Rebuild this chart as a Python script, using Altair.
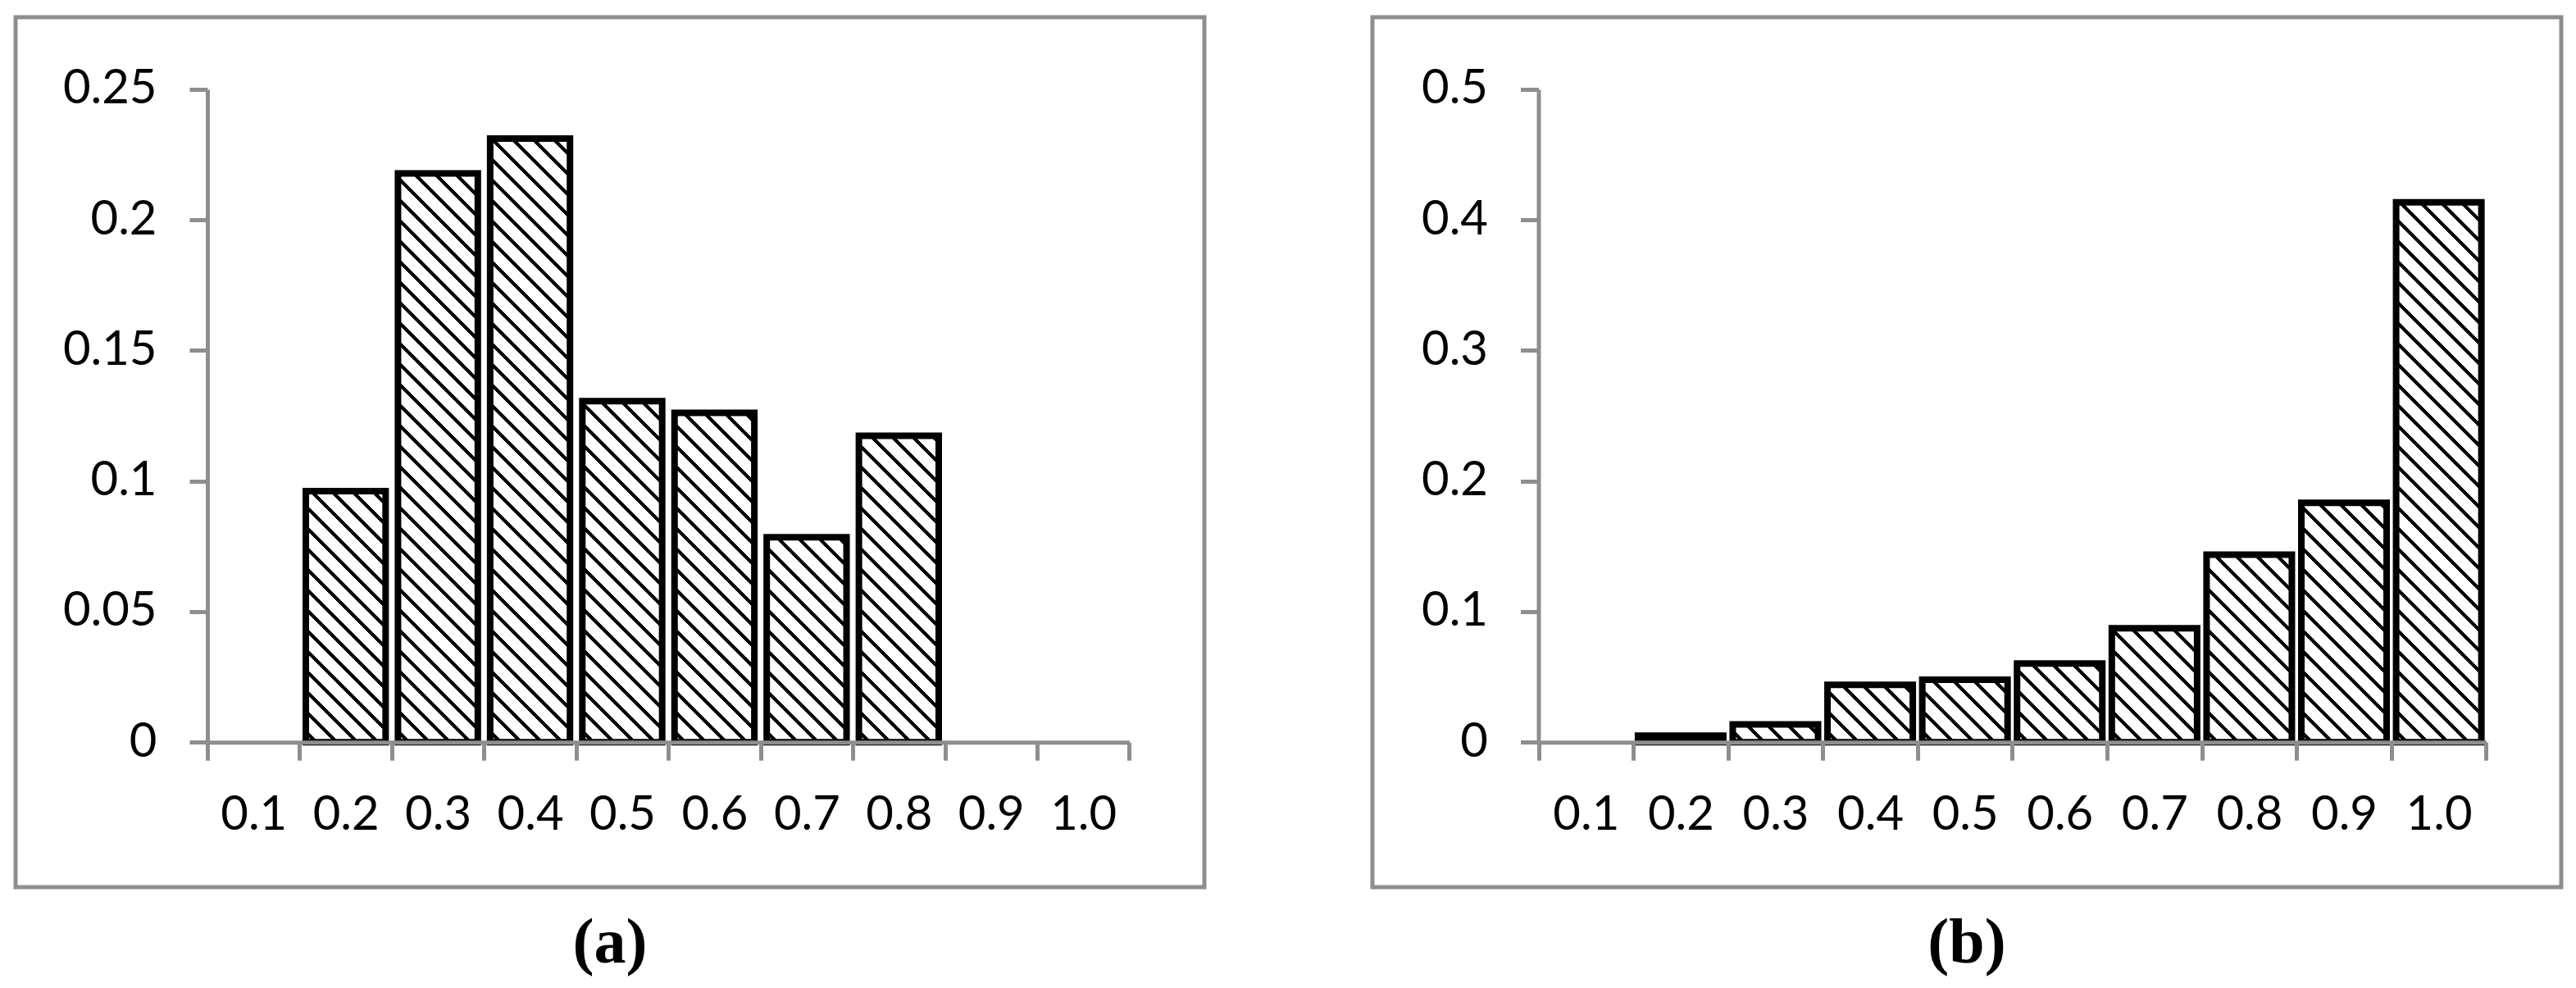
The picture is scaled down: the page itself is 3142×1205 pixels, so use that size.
import altair as alt

# ---------------- data ----------------
categories = ["0.1", "0.2", "0.3", "0.4", "0.5", "0.6", "0.7", "0.8", "0.9", "1.0"]
values_a = [None, 0.0961, 0.2178, 0.2311, 0.1306, 0.1261, 0.0785, 0.1173, None, None]
values_b = [None, 0.0050, 0.0136, 0.0440, 0.0478, 0.0603, 0.0872, 0.1436, 0.1833, 0.4134]
yticks_a = [0, 0.05, 0.1, 0.15, 0.2, 0.25]
yticks_b = [0, 0.1, 0.2, 0.3, 0.4, 0.5]
panel_labels = ["(a)", "(b)"]

# ---------------- style / layout ----------------
GRAY = "#8e8e8e"
VIEW_W, VIEW_H = 1450, 1061          # outer framed box of each panel
Y0, YTOP = 884.2, 87.9               # pixel rows of y=0 and y=max inside the box
X_END = 1358.4                       # right end of the category axis
LABEL_FONT = "Lato"
LABEL_SIZE = 58


def hatch(w, h, gid, period=25.0, thick=6.0):
    """Diagonal '\\' hatch as a hard-stop linear gradient in the bar's bbox."""
    L = w + h
    k = L / (w * w + h * h)
    stops = [{"offset": 0, "color": "white"}]
    a = period * 0.4
    while a < L:
        b = min(a + thick, L)
        stops += [
            {"offset": a / L, "color": "white"},
            {"offset": a / L, "color": "black"},
            {"offset": b / L, "color": "black"},
            {"offset": b / L, "color": "white"},
        ]
        a += period
    stops.append({"offset": 1, "color": "white"})
    return {"id": gid, "gradient": "linear", "x1": 0, "y1": 1,
            "x2": k * w, "y2": 1 - k * h, "stops": stops}


def panel(values, yticks, x_start, bar_frac, label, pid):
    ymax = yticks[-1]
    step = (X_END - x_start) / len(categories)
    w = bar_frac * step
    ppu = (Y0 - YTOP) / ymax
    rows = []
    for i, (c, v) in enumerate(zip(categories, values)):
        if v is None:
            continue
        rows.append({"cat": c, "value": v,
                     "hatch": hatch(w, max(v * ppu, 0.5), f"hatch_{pid}_{i}")})

    x_axis = alt.Axis(title=None, labelAngle=0, tickBand="extent", grid=False,
                      domainColor=GRAY, domainWidth=5, tickColor=GRAY, tickWidth=5,
                      tickSize=22, labelFont=LABEL_FONT, labelFontSize=LABEL_SIZE,
                      labelColor="black", labelPadding=38, offset=Y0 - VIEW_H,
                      zindex=1)
    y_axis = alt.Axis(title=None, values=yticks, format="~g", grid=False,
                      domainColor=GRAY, domainWidth=5, tickColor=GRAY, tickWidth=5,
                      tickSize=22, labelFont=LABEL_FONT, labelFontSize=LABEL_SIZE,
                      labelColor="black", labelPadding=40, offset=-x_start,
                      zindex=1)

    return alt.Chart(alt.Data(values=rows)).mark_bar(
        width=alt.RelativeBandSize(bar_frac), stroke="black", strokeWidth=8,
        strokeJoin="miter"
    ).encode(
        x=alt.X("cat:N", sort=categories,
                scale=alt.Scale(domain=categories, range=[x_start, X_END],
                                paddingInner=0, paddingOuter=0),
                axis=x_axis),
        y=alt.Y("value:Q",
                scale=alt.Scale(domain=[0, ymax], range=[Y0, YTOP], nice=False, zero=True),
                axis=y_axis),
        fill=alt.Fill("hatch:N", scale=None, legend=None),
    ).properties(
        width=VIEW_W, height=VIEW_H,
        title=alt.TitleParams(label, orient="bottom", anchor="middle",
                              font="Liberation Serif", fontSize=78, fontWeight="bold",
                              color="black", offset=30, baseline="top"),
    )


pa = panel(values_a, yticks_a, 234.0, 0.866, panel_labels[0], "a")
pb = panel(values_b, yticks_b, 202.5, 0.90, panel_labels[1], "b")

chart = alt.hconcat(pa, pb, spacing=199).properties(
    padding={"left": 8, "top": 10, "right": 5, "bottom": 5},
    background="white",
).configure_view(stroke=GRAY, strokeWidth=5)

chart.save("out.html", embed_options={"renderer": "svg", "actions": False})
